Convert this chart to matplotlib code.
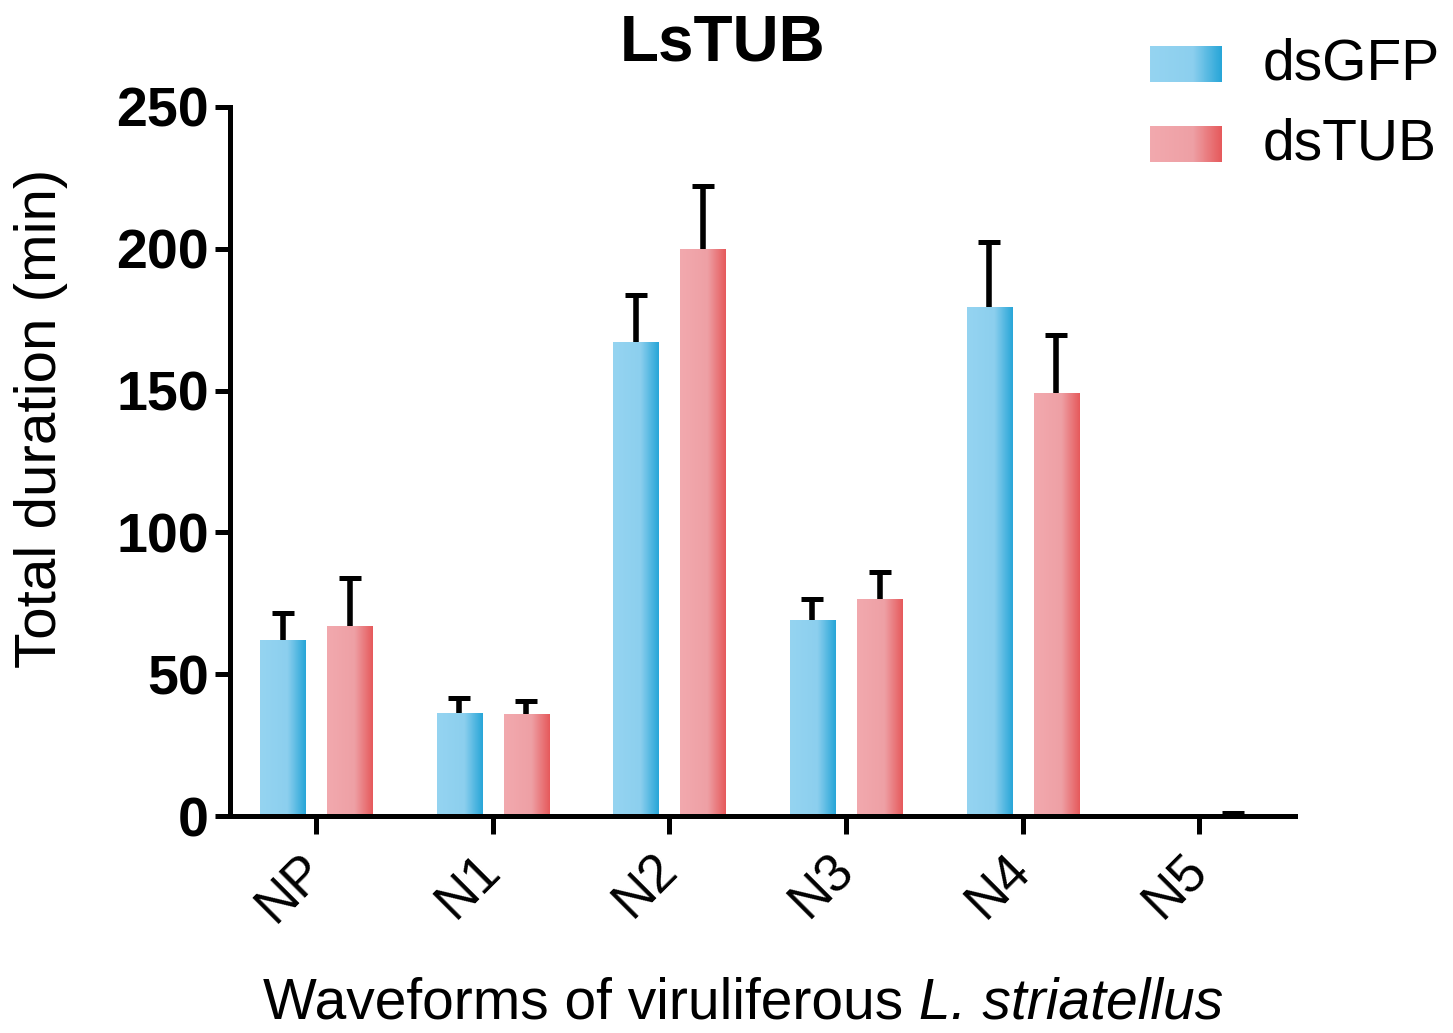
import numpy as np
import matplotlib
matplotlib.use("Agg")
import matplotlib.pyplot as plt
from matplotlib.colors import LinearSegmentedColormap

plt.rcParams["font.family"] = ["Liberation Sans", "DejaVu Sans"]

# ── datos ────────────────────────────────────────────────────────────────
ondas = ["NP", "N1", "N2", "N3", "N4", "N5"]
gfp_media = [62, 36.5, 167, 69, 179.5, 0]
gfp_err = [9.5, 5.2, 16.5, 7.5, 23, 0]
tub_media = [67, 36, 200, 76.5, 149, 0.6]
tub_err = [17, 4.5, 22, 9.5, 20.5, 0.6]

cmap_gfp = LinearSegmentedColormap.from_list(
    "gfp", [(0, "#95d4f1"), (0.6, "#8ccfee"), (1, "#28a6d8")])
cmap_tub = LinearSegmentedColormap.from_list(
    "tub", [(0, "#f2a9ae"), (0.6, "#eea0a5"), (1, "#e65a5c")])
grad = np.linspace(0, 1, 64).reshape(1, -1)


def barras_degradado(ax, x, alto, cmap, ancho):
    barras = ax.bar(x, alto, ancho, color=cmap(0.5), lw=0, zorder=2)
    for b in barras:
        x0, y0 = b.get_x(), b.get_y()
        im = ax.imshow(grad, cmap=cmap, aspect="auto", zorder=2.5,
                       extent=(x0, x0 + b.get_width(), y0, y0 + b.get_height()))
        im.set_clip_path(b)
    return barras


def errores(ax, x, alto, err, capw):
    alto = np.asarray(alto)
    err = np.asarray(err)
    ax.vlines(x, alto, alto + err, color="k", lw=4, zorder=3)
    ax.hlines(alto + err, x - capw, x + capw, color="k", lw=3.6, zorder=3)


fig = plt.figure(figsize=(14.53, 10.33), dpi=100)
ax = fig.add_axes([0.158, 0.21, 0.733, 0.6866])

x = np.arange(len(ondas))
ancho = 0.255
off = 0.19
barras_degradado(ax, x - off, gfp_media, cmap_gfp, ancho)
barras_degradado(ax, x + off, tub_media, cmap_tub, ancho)
errores(ax, x - off, gfp_media, gfp_err, 0.062)
errores(ax, x + off, tub_media, tub_err, 0.062)

ax.set_xlim(-0.49, 5.54)
ax.set_ylim(0, 250)
ax.set_yticks([0, 50, 100, 150, 200, 250])
ax.set_xticks(x)
ax.set_xticklabels(ondas, rotation=45, ha="right", va="center",
                   rotation_mode="anchor", fontsize=38)
for lab in ax.get_yticklabels():
    lab.set_fontweight("bold")
ax.tick_params(axis="y", labelsize=40, width=3.6, length=11, pad=4)
ax.tick_params(axis="x", width=3.6, length=13, pad=20)

for s in ("top", "right"):
    ax.spines[s].set_visible(False)
for s in ("left", "bottom"):
    ax.spines[s].set_linewidth(3.6)

fig.text(0.028, 0.595, "Total duration (min)", fontsize=42, rotation=90,
         ha="center", va="center")

# etiqueta x: parte normal + parte en cursiva, pegadas
t1 = fig.text(0.181, 0.014, "Waveforms of viruliferous", fontsize=41,
              ha="left", va="baseline")
fig.canvas.draw()
ancho_t1 = t1.get_window_extent().width / fig.bbox.width
fig.text(0.181 + ancho_t1, 0.014, " L. striatellus", fontsize=41,
         style="italic", ha="left", va="baseline")

fig.text(0.497, 0.958, "LsTUB", fontsize=46, fontweight="bold",
         ha="center", va="center")

# leyenda a mano con parches de degradado
for i, (cm, nombre) in enumerate([(cmap_gfp, "dsGFP"), (cmap_tub, "dsTUB")]):
    yc = 0.938 - i * 0.0774
    lax = fig.add_axes([0.7915, yc - 0.0175, 0.0495, 0.035])
    lax.imshow(grad, cmap=cm, aspect="auto")
    lax.axis("off")
    fig.text(0.869, yc, nombre, fontsize=41, va="center", ha="left")

fig.savefig("out.png", dpi=100)
